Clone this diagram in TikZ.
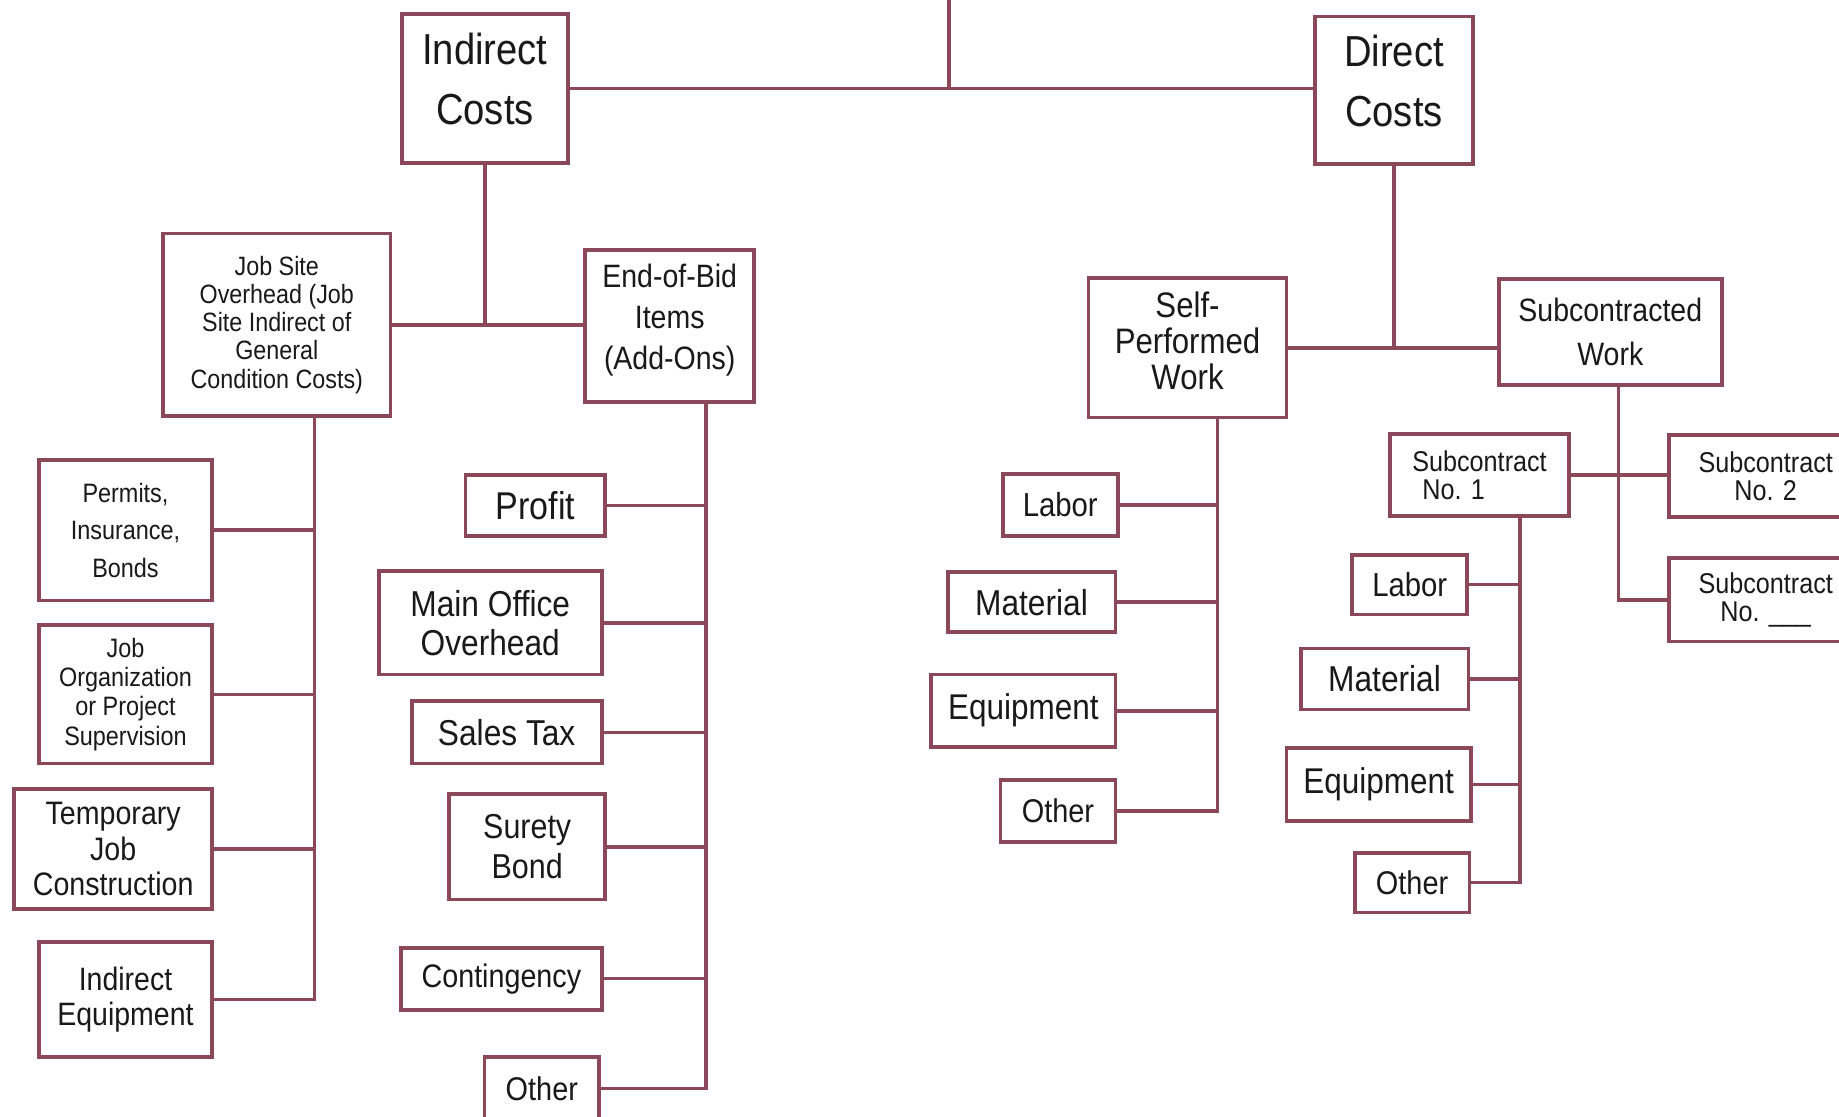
\documentclass[tikz,border=0pt]{standalone}
\usepackage{fontspec}
\setmainfont{Liberation Sans}[FakeStretch=0.88]
\usetikzlibrary{calc}
\definecolor{boxc}{RGB}{139,72,90}
\definecolor{txtc}{RGB}{25,25,25}
\newcommand{\myfs}[2]{\fontsize{#1}{#2}\selectfont}
\tikzset{
  cbox/.style={draw=boxc, line width=3.2pt, inner sep=0pt, align=center, text=txtc},
  conn/.style={draw=boxc, line width=3pt}
}
\begin{document}
\begin{tikzpicture}[x=1pt,y=-1pt]
\useasboundingbox (0,0) rectangle (1568,952);
\fill[white] (0,0) rectangle (1568,952);

% top level
\node[cbox, minimum width=141pt, minimum height=127pt, font=\myfs{37}{51}] (ic) at (413.5,75.5) {Indirect\\Costs\\[-35pt]};
\node[cbox, minimum width=135pt, minimum height=126pt, font=\myfs{37}{51}] (dc) at (1188.5,77) {Direct\\Costs\\[-35pt]};
\coordinate (topc) at (809,0);

% indirect branch
\node[cbox, minimum width=194pt, minimum height=156pt, font=\myfs{22.6}{24}] (js) at (236,277) {Job Site\\Overhead (Job\\Site Indirect of\\General\\Condition Costs)};
\node[cbox, minimum width=144pt, minimum height=130pt, font=\myfs{27.6}{35}] (eb) at (571,278) {End-of-Bid\\Items\\(Add-Ons)\\[-19pt]};
\coordinate (jtop) at (268,355);
\coordinate (etop) at (602,343);

\node[cbox, minimum width=148pt, minimum height=120pt, font=\myfs{22.7}{32}] (pe) at (107,452) {Permits,\\Insurance,\\Bonds};
\node[cbox, minimum width=148pt, minimum height=118pt, font=\myfs{22.7}{25}] (jo) at (107,592) {Job\\Organization\\or Project\\Supervision};
\node[cbox, minimum width=169pt, minimum height=102pt, font=\myfs{27.7}{30}] (tj) at (96.5,724) {Temporary\\Job\\Construction};
\node[cbox, minimum width=148pt, minimum height=98pt, font=\myfs{27.6}{30}] (ie) at (107,852) {Indirect\\Equipment};

\node[cbox, minimum width=119pt, minimum height=52pt, font=\myfs{33}{36}] (pr) at (456.5,431) {Profit};
\node[cbox, minimum width=190pt, minimum height=88pt, font=\myfs{30.7}{33}] (mo) at (418,531) {Main Office\\Overhead};
\node[cbox, minimum width=162pt, minimum height=53pt, font=\myfs{30.7}{33}] (st) at (432,624.5) {Sales Tax};
\node[cbox, minimum width=133pt, minimum height=90pt, font=\myfs{29.5}{34}] (sb) at (449.5,722) {Surety\\Bond};
\node[cbox, minimum width=171pt, minimum height=53pt, font=\myfs{27.8}{30}] (co) at (427.5,834.5) {Contingency};
\node[cbox, minimum width=98pt, minimum height=54pt, font=\myfs{28}{30}] (ot) at (462,928) {Other};

% direct branch
\node[cbox, minimum width=169pt, minimum height=119pt, font=\myfs{30.2}{31}] (sp) at (1012.5,296.5) {Self-\\Performed\\Work\\[-19pt]};
\node[cbox, minimum width=190pt, minimum height=90pt, font=\myfs{27.6}{37}] (sw) at (1373,283) {Subcontracted\\Work};
\coordinate (stop) at (1038,356);
\coordinate (wtop) at (1380,328);

\node[cbox, minimum width=98pt, minimum height=53pt, font=\myfs{28.4}{30}] (l1) at (904,430.5) {Labor};
\node[cbox, minimum width=143pt, minimum height=51pt, font=\myfs{30.7}{33}] (m1) at (879.5,513.5) {Material};
\node[cbox, minimum width=157pt, minimum height=62pt, font=\myfs{30.5}{33}] (e1) at (872.5,606) {Equipment};
\node[cbox, minimum width=98pt, minimum height=53pt, font=\myfs{28}{30}] (o1) at (902,691.5) {Other};

\node[cbox, minimum width=153pt, minimum height=70pt, font=\myfs{24.4}{24}] (s1) at (1261.5,405) {Subcontract\\No. 1\hspace*{44pt}};
\node[cbox, minimum width=165pt, minimum height=70pt, font=\myfs{24.4}{24}] (s2) at (1505.5,406) {Subcontract\\No. 2};
\node[cbox, minimum width=165pt, minimum height=71pt, font=\myfs{24.4}{24}] (sn) at (1505.5,511.5) {Subcontract\\No. \_\_\_};
\coordinate (s1t) at (1296,440);

\node[cbox, minimum width=98pt, minimum height=51pt, font=\myfs{28.4}{30}] (l2) at (1202,498.5) {Labor};
\node[cbox, minimum width=143pt, minimum height=52pt, font=\myfs{30.7}{33}] (m2) at (1180.5,579) {Material};
\node[cbox, minimum width=157pt, minimum height=62pt, font=\myfs{30.5}{33}] (e2) at (1175.5,669) {Equipment};
\node[cbox, minimum width=98pt, minimum height=51pt, font=\myfs{28}{30}] (o2) at (1204,752.5) {Other};

% connectors: top
\draw[conn] (ic.east) -- (ic.east -| dc.west);
\draw[conn] (topc) -- (topc |- ic.east);

% indirect
\draw[conn] (js.east) -- (js.east -| eb.west);
\draw[conn] (ic.south) -- (ic.south |- js.east);
\draw[conn] (jtop) |- (ie.east);
\foreach \n in {pe,jo,tj} \draw[conn] (\n.east) -- (\n.east -| jtop);
\draw[conn] (etop) |- (ot.east);
\foreach \n in {pr,mo,st,sb,co} \draw[conn] (\n.east) -- (\n.east -| etop);

% direct
\draw[conn] (sp.east) -- (sp.east -| sw.west);
\draw[conn] (dc.south) -- (dc.south |- sp.east);
\draw[conn] (stop) |- (o1.east);
\foreach \n in {l1,m1,e1} \draw[conn] (\n.east) -- (\n.east -| stop);
\draw[conn] (wtop) |- (sn.west);
\draw[conn] (s1.east) -- (s1.east -| s2.west);
\draw[conn] (s1t) |- (o2.east);
\foreach \n in {l2,m2,e2} \draw[conn] (\n.east) -- (\n.east -| s1t);
\end{tikzpicture}
\end{document}
